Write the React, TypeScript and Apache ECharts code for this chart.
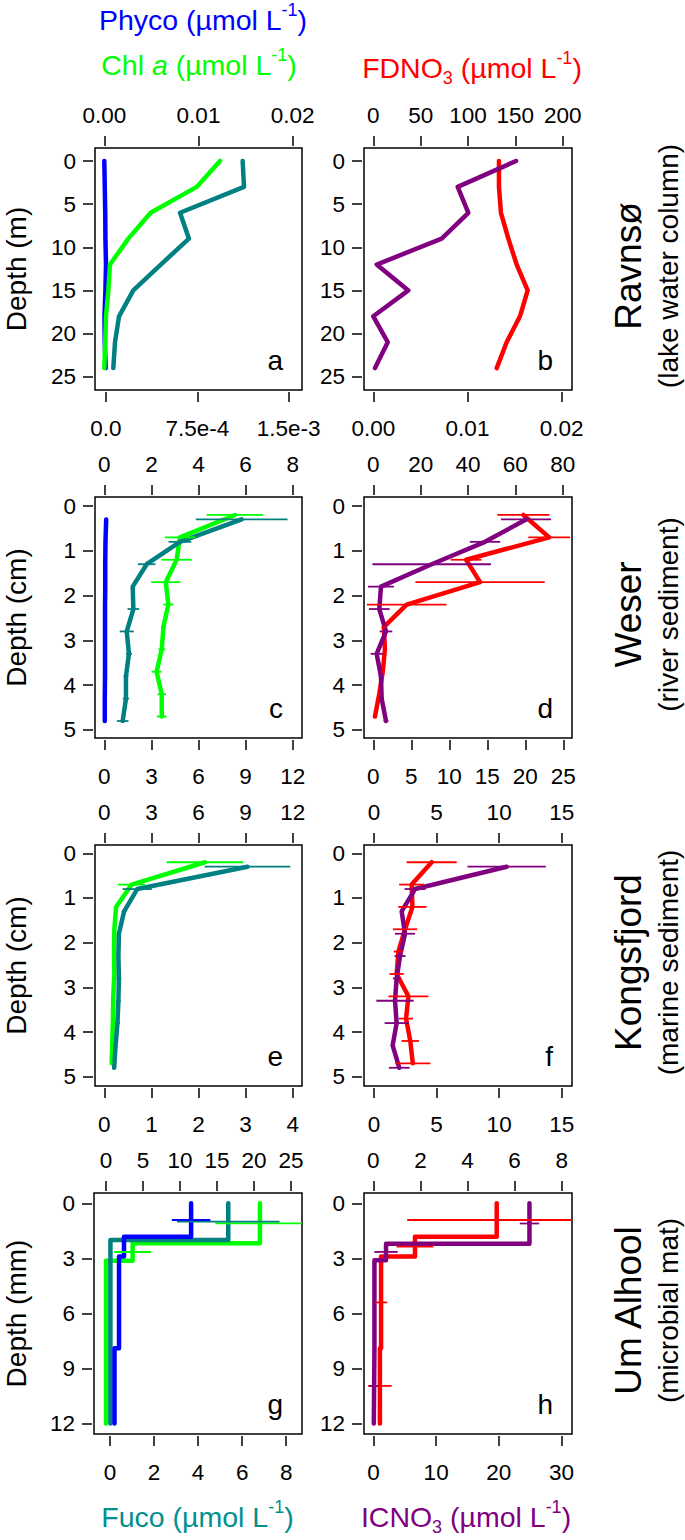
import React, { useEffect, useRef } from "react";
import * as echarts from "echarts";

const FONT = "'Liberation Sans', Arial, Helvetica, sans-serif";

// ---------------- Data ----------------
// Ravnsø (lake water column), depth in m
const ravDepth = [0, 3, 6, 9, 12, 15, 18, 21, 24];
const ravPhyco = [0.0, 0.00005, 0.0001, 0.00012, 0.00018, 0.00012, 0.00002, 0.00005, 0.00015];
const ravChl = [0.01228, 0.00981, 0.00492, 0.00255, 0.0006, 0.00043, 0.00018, 0.0001, 0.0];
const ravFuco = [0.001122, 0.001133, 0.000608, 0.000681, 0.00045, 0.000224, 0.000107, 0.000074, 0.00006];
const ravFDNO3 = [132.7, 132.7, 134.8, 142.6, 151.4, 163.0, 154.9, 140.8, 130.3];
const ravICNO3 = [0.01515, 0.00896, 0.01009, 0.00726, 0.00036, 0.00372, 0.0, 0.00153, 0.00018];

// Weser (river sediment), depth in cm
const weserDepthA = [0.2, 0.7, 1.2, 1.7, 2.2, 2.7, 3.2, 3.7, 4.2, 4.7];
const weserDepthB = [0.3, 0.8, 1.3, 1.8, 2.3, 2.8, 3.3, 3.8, 4.3, 4.8];
const weserPhyco = [0.08, 0.05, 0.04, 0.04, 0.03, 0.03, 0.03, 0.03, 0.02, 0.02];
const weserChl = [5.55, 3.21, 3.07, 2.61, 2.72, 2.51, 2.44, 2.22, 2.44, 2.44];
const weserChlErr = [1.2, 0.64, 0.64, 0.62, 0.21, 0.1, 0.14, 0.21, 0.18, 0.21];
const weserFuco = [8.75, 4.82, 2.7, 1.81, 1.85, 1.43, 1.57, 1.38, 1.38, 1.17];
const weserFucoErr = [2.92, 0.72, 0.56, 0.1, 0.37, 0.45, 0.2, 0.15, 0.2, 0.37];
const weserFDNO3 = [63.4, 74.3, 39.2, 45.1, 14.1, 4.5, 4.9, 4.0, 2.5, 0.7];
const weserFDNO3Err = [11, 8.8, 6.5, 27.3, 16.8, 1.0, 0.8, 0.8, 0.5, 0.5];
const weserICNO3 = [20.1, 14.7, 7.68, 1.01, 0.79, 1.67, 0.44, 1.01, 1.1, 1.67];
const weserICNO3Err = [3.3, 2.0, 7.8, 1.7, 1.36, 0.83, 0.8, 0.3, 0.3, 0.3];

// Kongsfjord (marine sediment), depth in cm
const kongDepthA = [0.2, 0.7, 1.2, 1.7, 2.2, 2.7, 3.2, 3.7, 4.2, 4.7];
const kongDepthB = [0.3, 0.8, 1.3, 1.8, 2.3, 2.8, 3.3, 3.8, 4.3, 4.8];
const kongChl = [6.41, 1.74, 0.75, 0.64, 0.62, 0.64, 0.57, 0.55, 0.51, 0.47];
const kongChlErr = [2.44, 0.87, 0.1, 0.05, 0.05, 0.05, 0.08, 0.1, 0.08, 0.05];
const kongFuco = [3.04, 0.7, 0.42, 0.31, 0.3, 0.31, 0.3, 0.28, 0.24, 0.21];
const kongFucoErr = [0.91, 0.31, 0.05, 0.03, 0.03, 0.05, 0.05, 0.05, 0.03, 0.03];
const kongFDNO3 = [4.61, 3.01, 3.07, 2.48, 1.95, 1.81, 2.75, 2.56, 2.9, 3.1];
const kongFDNO3Err = [2.0, 1.0, 1.13, 0.97, 0.37, 0.57, 1.6, 0.56, 0.7, 1.4];
const kongICNO3 = [10.6, 3.28, 2.21, 2.48, 2.08, 1.81, 1.68, 1.81, 1.49, 2.02];
const kongICNO3Err = [3.13, 0.84, 0.1, 0.8, 0.44, 0.3, 1.49, 0.96, 0.1, 0.83];

// Um Alhool (microbial mat), depth in mm: layer boundaries and layer values
const umPhycoBounds = [0, 1.82, 2.9, 7.9, 12];
const umPhyco = [11.5, 2.43, 1.76, 1.15];
const umPhycoErr = [2.6, 0.1, 0.2, 0.1];
const umChlBounds = [0, 2.18, 3.13, 12];
const umChl = [20.8, 3.6, 0.0];
const umChlErr = [6.0, 2.5, 0.1];
const umFucoBounds = [0, 2.0, 12];
const umFuco = [5.37, 0.02];
const umFucoErr = [2.33, 0.02];
const umFDNO3Bounds = [0, 1.82, 2.9, 7.9, 12];
const umFDNO3 = [5.24, 1.77, 0.33, 0.28];
const umFDNO3Err = [3.8, 0.78, 0.26, 0.5];
const umICNO3Bounds = [0, 2.2, 3.1, 7.9, 12];
const umICNO3 = [24.9, 2.0, 0.15, 0.05];
const umICNO3Err = [1.55, 1.87, 0.1, 0.77];

// Tick values and labels (per panel: top axis, bottom axis)
const aTopTicks = [0, 0.01, 0.02];
const aTopLabels = ["0.00", "0.01", "0.02"];
const aBotTicks = [0, 0.00075, 0.0015];
const aBotLabels = ["0.0", "7.5e-4", "1.5e-3"];
const bTopTicks = [0, 50, 100, 150, 200];
const bBotTicks = [0, 0.01, 0.02];
const bBotLabels = ["0.00", "0.01", "0.02"];
const cTopTicks = [0, 2, 4, 6, 8];
const cBotTicks = [0, 3, 6, 9, 12];
const dTopTicks = [0, 20, 40, 60, 80];
const dBotTicks = [0, 5, 10, 15, 20, 25];
const eTopTicks = [0, 3, 6, 9, 12];
const eBotTicks = [0, 1, 2, 3, 4];
const fTopTicks = [0, 5, 10, 15];
const fBotTicks = [0, 5, 10, 15];
const gTopTicks = [0, 5, 10, 15, 20, 25];
const gBotTicks = [0, 2, 4, 6, 8];
const hTopTicks = [0, 2, 4, 6, 8];
const hBotTicks = [0, 10, 20, 30];
const depthTicksM = [0, 5, 10, 15, 20, 25];
const depthTicksCm = [0, 1, 2, 3, 4, 5];
const depthTicksMm = [0, 3, 6, 9, 12];

const siteNames = ["Ravnsø", "Weser", "Kongsfjord", "Um Alhool"];
const siteSubs = ["(lake water column)", "(river sediment)", "(marine sediment)", "(microbial mat)"];
const depthTitles = ["Depth (m)", "Depth (cm)", "Depth (cm)", "Depth (mm)"];
const panelLetters = ["a", "b", "c", "d", "e", "f", "g", "h"];

// ---------------- Styling / layout ----------------
const C = {
  phyco: "#0000FF",
  chl: "#00FF00",
  fuco: "#008080",
  fd: "#FF0000",
  ic: "#800080",
};

// grid boxes [left, top, width, height]
const BOX = [
  [95, 148, 207, 242], [364, 148, 208, 242],
  [95, 497, 207, 241], [364, 497, 208, 241],
  [95, 845, 207, 241], [364, 845, 208, 241],
  [94, 1193, 208, 241], [364, 1193, 208, 241],
];
// x axis ranges (top, bottom per panel)
const XR = [
  [-0.000987, 0.020987], [-0.0000903, 0.0016092],
  [-9.82, 209.82], [-0.000987, 0.021093],
  [-0.395, 8.395], [-0.592, 12.592],
  [-3.928, 83.928], [-1.224, 26.145],
  [-0.592, 12.592], [-0.197, 4.197],
  [-0.799, 15.823], [-0.799, 15.823],
  [-1.622, 26.486], [-0.726, 8.717],
  [-0.395, 8.437], [-1.517, 31.692],
];
const YR = [[-1.507, 26.541], [-0.201, 5.179], [-0.186, 5.208], [-0.561, 12.572]];

function labelFor(v: number, ticks: number[], labels?: string[]) {
  let bi = 0;
  let bd = Infinity;
  ticks.forEach((t, i) => {
    const d = Math.abs(t - v);
    if (d < bd) { bd = d; bi = i; }
  });
  return labels ? labels[bi] : String(ticks[bi]);
}

function xAxis(gridIndex: number, position: string, range: number[], ticks: number[], labels?: string[]) {
  return {
    type: "value",
    gridIndex,
    position,
    min: range[0],
    max: range[1],
    offset: 2,
    axisLine: { show: false, onZero: false },
    axisTick: { show: true, length: 10, customValues: ticks, lineStyle: { color: "#000", width: 1.5 } },
    axisLabel: {
      show: true,
      customValues: ticks,
      margin: position === "top" ? 19 : 25,
      fontSize: 22.5,
      fontFamily: FONT,
      color: "#000",
      formatter: (v: number) => labelFor(v, ticks, labels),
    },
    splitLine: { show: false },
  };
}

function yAxis(gridIndex: number, range: number[], ticks: number[]) {
  return {
    type: "value",
    gridIndex,
    position: "left",
    inverse: true,
    min: range[0],
    max: range[1],
    offset: 2,
    axisLine: { show: false, onZero: false },
    axisTick: { show: true, length: 10, customValues: ticks, lineStyle: { color: "#000", width: 1.5 } },
    axisLabel: {
      show: true,
      customValues: ticks,
      margin: 17,
      fontSize: 22.5,
      fontFamily: FONT,
      color: "#000",
      formatter: (v: number) => labelFor(v, ticks),
    },
    splitLine: { show: false },
  };
}

const pairs = (vals: number[], depths: number[]) => vals.map((v, i) => [v, depths[i]]);
const triples = (vals: number[], errs: number[], depths: number[]) => vals.map((v, i) => [v, depths[i], errs[i]]);
function stepPairs(bounds: number[], vals: number[]) {
  const out: number[][] = [];
  vals.forEach((v, i) => {
    out.push([v, bounds[i]]);
    out.push([v, bounds[i + 1]]);
  });
  return out;
}
const stepErr = (bounds: number[], vals: number[], errs: number[]) =>
  vals.map((v, i) => [v, (bounds[i] + bounds[i + 1]) / 2, errs[i]]);

function lineS(xi: number, yi: number, data: number[][], color: string) {
  return {
    type: "line",
    xAxisIndex: xi,
    yAxisIndex: yi,
    data,
    symbol: "none",
    showSymbol: false,
    silent: true,
    clip: true,
    z: 3,
    lineStyle: { color, width: 4.5, cap: "round", join: "round" },
    itemStyle: { color },
    emphasis: { disabled: true },
  };
}

function errS(xi: number, yi: number, data: number[][], color: string) {
  return {
    type: "custom",
    xAxisIndex: xi,
    yAxisIndex: yi,
    data,
    silent: true,
    z: 4,
    encode: { x: 0, y: 1 },
    renderItem: (params: any, api: any) => {
      const x = api.value(0);
      const y = api.value(1);
      const e = api.value(2);
      const p1 = api.coord([x - e, y]);
      const p2 = api.coord([x + e, y]);
      const cs = params.coordSys;
      const x1 = Math.max(cs.x, p1[0]);
      const x2 = Math.min(cs.x + cs.width, p2[0]);
      return {
        type: "line",
        shape: { x1, y1: p1[1], x2, y2: p2[1] },
        style: { stroke: color, lineWidth: 1.8 },
      };
    },
  };
}

const HF = 28.5;
const richFor = (color: string) => ({
  n: { fontSize: HF, lineHeight: 38, fill: color, fontFamily: FONT },
  i: { fontSize: HF, lineHeight: 38, fill: color, fontFamily: FONT, fontStyle: "italic" },
  sup: { fontSize: 18, lineHeight: 18, fill: color, fontFamily: FONT, verticalAlign: "top" },
  sub: { fontSize: 18, lineHeight: 18, fill: color, fontFamily: FONT, verticalAlign: "bottom" },
});

function gText(x: number, y: number, text: string, size: number, opts: any = {}) {
  return {
    type: "text",
    x,
    y,
    rotation: opts.rot || 0,
    silent: true,
    z: 10,
    style: {
      text,
      fill: opts.color || "#000",
      fontSize: size,
      fontFamily: FONT,
      align: opts.align || "center",
      verticalAlign: "middle",
      rich: opts.rich,
    },
  };
}

function buildOption() {
  const grid = BOX.map((b) => ({
    left: b[0],
    top: b[1],
    width: b[2],
    height: b[3],
    show: true,
    borderColor: "#000",
    borderWidth: 1.5,
    backgroundColor: "transparent",
    containLabel: false,
  }));

  const xAxes = [
    xAxis(0, "top", XR[0], aTopTicks, aTopLabels), xAxis(0, "bottom", XR[1], aBotTicks, aBotLabels),
    xAxis(1, "top", XR[2], bTopTicks), xAxis(1, "bottom", XR[3], bBotTicks, bBotLabels),
    xAxis(2, "top", XR[4], cTopTicks), xAxis(2, "bottom", XR[5], cBotTicks),
    xAxis(3, "top", XR[6], dTopTicks), xAxis(3, "bottom", XR[7], dBotTicks),
    xAxis(4, "top", XR[8], eTopTicks), xAxis(4, "bottom", XR[9], eBotTicks),
    xAxis(5, "top", XR[10], fTopTicks), xAxis(5, "bottom", XR[11], fBotTicks),
    xAxis(6, "top", XR[12], gTopTicks), xAxis(6, "bottom", XR[13], gBotTicks),
    xAxis(7, "top", XR[14], hTopTicks), xAxis(7, "bottom", XR[15], hBotTicks),
  ];
  const yTicks = [depthTicksM, depthTicksCm, depthTicksCm, depthTicksMm];
  const yAxes = BOX.map((_, g) => yAxis(g, YR[Math.floor(g / 2)], yTicks[Math.floor(g / 2)]));

  const series: any[] = [
    // a
    lineS(0, 0, pairs(ravPhyco, ravDepth), C.phyco),
    lineS(0, 0, pairs(ravChl, ravDepth), C.chl),
    lineS(1, 0, pairs(ravFuco, ravDepth), C.fuco),
    // b
    lineS(2, 1, pairs(ravFDNO3, ravDepth), C.fd),
    lineS(3, 1, pairs(ravICNO3, ravDepth), C.ic),
    // c
    lineS(4, 2, pairs(weserPhyco, weserDepthB), C.phyco),
    lineS(4, 2, pairs(weserChl, weserDepthA), C.chl),
    errS(4, 2, triples(weserChl, weserChlErr, weserDepthA), C.chl),
    lineS(5, 2, pairs(weserFuco, weserDepthB), C.fuco),
    errS(5, 2, triples(weserFuco, weserFucoErr, weserDepthB), C.fuco),
    // d
    lineS(6, 3, pairs(weserFDNO3, weserDepthA), C.fd),
    errS(6, 3, triples(weserFDNO3, weserFDNO3Err, weserDepthA), C.fd),
    lineS(7, 3, pairs(weserICNO3, weserDepthB), C.ic),
    errS(7, 3, triples(weserICNO3, weserICNO3Err, weserDepthB), C.ic),
    // e
    lineS(8, 4, pairs(kongChl, kongDepthA), C.chl),
    errS(8, 4, triples(kongChl, kongChlErr, kongDepthA), C.chl),
    lineS(9, 4, pairs(kongFuco, kongDepthB), C.fuco),
    errS(9, 4, triples(kongFuco, kongFucoErr, kongDepthB), C.fuco),
    // f
    lineS(10, 5, pairs(kongFDNO3, kongDepthA), C.fd),
    errS(10, 5, triples(kongFDNO3, kongFDNO3Err, kongDepthA), C.fd),
    lineS(11, 5, pairs(kongICNO3, kongDepthB), C.ic),
    errS(11, 5, triples(kongICNO3, kongICNO3Err, kongDepthB), C.ic),
    // g
    lineS(12, 6, stepPairs(umChlBounds, umChl), C.chl),
    errS(12, 6, stepErr(umChlBounds, umChl, umChlErr), C.chl),
    lineS(13, 6, stepPairs(umFucoBounds, umFuco), C.fuco),
    errS(13, 6, stepErr(umFucoBounds, umFuco, umFucoErr), C.fuco),
    lineS(12, 6, stepPairs(umPhycoBounds, umPhyco), C.phyco),
    errS(12, 6, stepErr(umPhycoBounds, umPhyco, umPhycoErr), C.phyco),
    // h
    lineS(14, 7, stepPairs(umFDNO3Bounds, umFDNO3), C.fd),
    errS(14, 7, stepErr(umFDNO3Bounds, umFDNO3, umFDNO3Err), C.fd),
    lineS(15, 7, stepPairs(umICNO3Bounds, umICNO3), C.ic),
    errS(15, 7, stepErr(umICNO3Bounds, umICNO3, umICNO3Err), C.ic),
  ];

  const graphics: any[] = [];
  // header / footer axis titles
  graphics.push(gText(203, 19.5, "{n|Phyco (µmol L}{sup|-1}{n|)}", HF, { color: C.phyco, rich: richFor(C.phyco) }));
  graphics.push(gText(199, 65, "{n|Chl }{i|a}{n| (µmol L}{sup|-1}{n|)}", HF, { color: C.chl, rich: richFor(C.chl) }));
  graphics.push(gText(472, 68, "{n|FDNO}{sub|3}{n| (µmol L}{sup|-1}{n|)}", HF, { color: C.fd, rich: richFor(C.fd) }));
  graphics.push(gText(197.5, 1517, "{n|Fuco (µmol L}{sup|-1}{n|)}", HF, { color: "#009090", rich: richFor("#009090") }));
  graphics.push(gText(466, 1517, "{n|ICNO}{sub|3}{n| (µmol L}{sup|-1}{n|)}", HF, { color: C.ic, rich: richFor(C.ic) }));

  for (let r = 0; r < 4; r++) {
    const b = BOX[r * 2];
    const cy = b[1] + b[3] / 2;
    graphics.push(gText(16, cy, depthTitles[r], 28, { rot: Math.PI / 2 }));
    graphics.push(gText(628, cy - 3, siteNames[r], 37, { rot: Math.PI / 2 }));
    graphics.push(gText(668, cy - 3, siteSubs[r], 28, { rot: Math.PI / 2 }));
  }
  BOX.forEach((b, i) => {
    graphics.push(gText(b[0] + b[2] - 19, b[1] + b[3] - 30, panelLetters[i], 28, { align: "right" }));
  });

  return {
    animation: false,
    backgroundColor: "#fff",
    textStyle: { fontFamily: FONT },
    grid,
    xAxis: xAxes,
    yAxis: yAxes,
    series,
    graphic: graphics,
  };
}

export default function App() {
  const ref = useRef<HTMLDivElement>(null);
  useEffect(() => {
    if (!ref.current) return;
    const chart = echarts.init(ref.current, null, { renderer: "svg" });
    chart.setOption(buildOption() as any);
    return () => {
      chart.dispose();
    };
  }, []);
  return (
    <div
      ref={ref}
      style={{ position: "absolute", left: 0, top: 0, width: 685, height: 1540, background: "#fff" }}
    />
  );
}
